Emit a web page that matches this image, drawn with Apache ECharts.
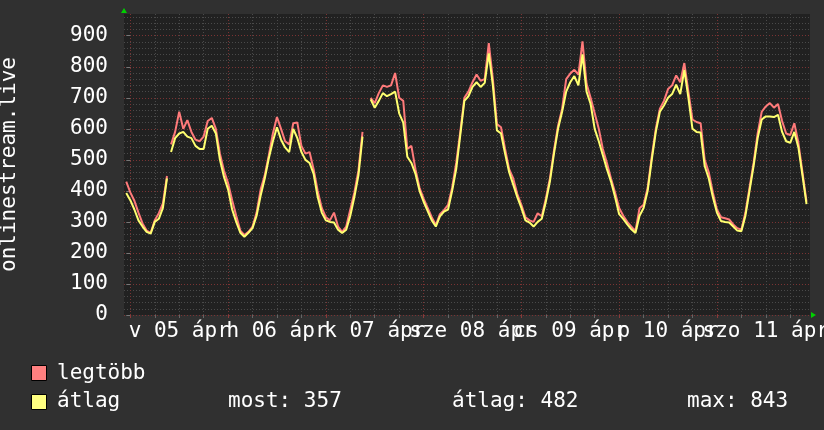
<!DOCTYPE html>
<html>
<head>
<meta charset="utf-8">
<script src="https://cdn.jsdelivr.net/npm/echarts@6/dist/echarts.min.js"></script>
<style>
html,body{margin:0;padding:0;background:#303030;}
#c{width:824px;height:430px;}
</style>
</head>
<body>
<div id="c"></div>
<script>
// hours relative to 2020-04-05 00:00, hourly samples starting at hour -1
const dataStartHour = -1;
const breakAfterHours = [9];
const maxVals = [
  430,395,368,330,295,272,265,305,328,360,448,550,
  590,655,600,628,590,565,560,575,625,635,600,520,
  465,425,370,320,272,258,268,285,330,405,450,515,
  585,638,600,560,550,618,620,545,520,525,470,400,
  345,315,305,330,285,268,285,340,395,465,590,null,
  700,683,715,740,735,740,780,700,690,535,545,470,
  410,375,345,315,290,325,338,355,410,490,590,700,
  720,750,775,755,760,876,760,615,605,535,470,440,
  390,355,315,305,300,328,318,375,440,530,610,665,
  760,778,790,775,882,745,700,650,600,535,490,440,
  395,345,320,300,285,270,344,355,410,510,600,665,
  690,728,740,772,750,812,720,630,622,618,500,460,
  395,340,315,312,308,292,280,275,330,410,490,585,
  655,672,683,668,680,625,585,580,618,555,460,365
];
const avgVals = [
  393,370,340,305,285,268,262,300,310,345,440,525,
  570,585,590,575,570,545,535,535,600,610,585,500,
  445,405,340,300,265,252,265,280,320,385,440,505,
  560,605,565,540,525,600,570,525,500,490,455,380,
  330,305,300,298,275,264,275,320,380,450,575,null,
  695,668,690,715,705,712,720,650,620,510,490,455,
  400,365,335,305,285,318,333,340,400,470,580,690,
  705,735,750,735,748,843,740,595,585,520,460,420,
  380,345,305,298,285,300,310,365,430,520,600,655,
  720,750,770,740,840,720,680,600,560,515,470,430,
  380,325,310,292,276,264,320,345,400,500,590,655,
  675,700,712,742,712,790,700,600,590,588,480,440,
  380,330,303,300,298,285,272,270,320,400,480,570,
  630,640,640,638,645,590,560,555,590,540,450,357
];
const dayLabels = ['v 05 ápr','h 06 ápr','k 07 ápr','sze 08 ápr','cs 09 ápr','p 10 ápr','szo 11 ápr'];
const dayStarts = [0,24,48,72,96,120,144];
const yTitle = 'onlinestream.live';
const seriesNames = ['legtöbb','átlag'];
const statsText = ['most: 357','átlag: 482','max: 843'];

const xMin = -1.55, xMax = 166.85;
const labelHours = dayStarts.map(d => d + 12);
const labelsA = labelHours.filter((h, i) => i % 2 === 0);
const labelsB = labelHours.filter((h, i) => i % 2 === 1);
const minorHours = [];
for (let h = 0; h <= 168; h += 6) { if (h % 24 !== 0 && h >= xMin && h <= xMax) minorHours.push(h); }

function build(vals) {
  const out = [];
  vals.forEach((v, i) => {
    const h = dataStartHour + i;
    out.push([h, v]);
    if (breakAfterHours.indexOf(h) >= 0) out.push([h + 0.5, null]);
  });
  return out;
}

const FONT = 'DejaVu Sans Mono';
const labelBase = {
  show: true, margin: 6, hideOverlap: false, showMinLabel: true, showMaxLabel: true,
  color: '#ffffff', fontFamily: FONT, fontSize: 21,
  formatter: v => dayLabels[Math.round((v - 12) / 24)] || ''
};
const chart = echarts.init(document.getElementById('c'), null, {renderer: 'canvas'});
chart.setOption({
  animation: false,
  backgroundColor: '#303030',
  grid: {left: 124, right: 14, top: 14, bottom: 115, show: true, backgroundColor: '#212121', borderWidth: 0,
         containLabel: false, outerBoundsMode: 'none'},
  xAxis: [
    {
      type: 'value', min: xMin, max: xMax, gridIndex: 0, position: 'bottom',
      axisLine: {show: false},
      axisTick: {show: true, customValues: minorHours, length: 3, lineStyle: {color: '#666666'}},
      axisLabel: Object.assign({}, labelBase, {customValues: labelsB}),
      splitLine: {show: true, lineStyle: {color: '#4a4a4a', type: [1, 2], width: 1}}
    },
    {
      type: 'value', min: xMin, max: xMax, gridIndex: 0, position: 'bottom',
      axisLine: {show: false},
      axisTick: {show: true, customValues: dayStarts, length: 3, lineStyle: {color: '#8a3a3a'}},
      axisLabel: Object.assign({}, labelBase, {customValues: labelsA}),
      splitLine: {show: true, lineStyle: {color: '#7a3333', type: [1, 2], width: 1}}
    }
  ],
  yAxis: [
    {
      type: 'value', min: 0, max: 970, interval: 20, position: 'left',
      axisLine: {show: false}, axisTick: {show: false}, axisLabel: {show: false},
      splitLine: {show: true, showMaxLine: false,
        lineStyle: {color: ['transparent', '#4a4a4a', '#4a4a4a', '#4a4a4a', '#4a4a4a'], type: [1, 2], width: 1}}
    },
    {
      type: 'value', min: 0, max: 970, interval: 100, position: 'left',
      name: yTitle, nameLocation: 'middle', nameRotate: 90, nameGap: 104,
      nameTextStyle: {color: '#ffffff', fontFamily: FONT, fontSize: 21},
      axisLine: {show: false},
      axisTick: {show: true, length: 4, lineStyle: {color: '#777777'}},
      axisLabel: {show: true, showMaxLabel: false, margin: 16, color: '#ffffff', fontFamily: FONT, fontSize: 21},
      splitLine: {show: true, showMaxLine: false, lineStyle: {color: '#7a3333', type: [1, 2], width: 1}}
    }
  ],
  series: [
    {
      name: seriesNames[0], type: 'line', xAxisIndex: 1, yAxisIndex: 1,
      data: build(maxVals), showSymbol: false, connectNulls: false,
      lineStyle: {color: '#ff7a7a', width: 2}, itemStyle: {color: '#ff7a7a'}
    },
    {
      name: seriesNames[1], type: 'line', xAxisIndex: 1, yAxisIndex: 1,
      data: build(avgVals), showSymbol: false, connectNulls: false,
      lineStyle: {color: '#ffff70', width: 2}, itemStyle: {color: '#ffff70'}
    }
  ],
  graphic: [
    {type: 'polygon', shape: {points: [[121, 13], [127, 13], [124, 8]]}, style: {fill: '#00d000'}},
    {type: 'polygon', shape: {points: [[811, 312], [811, 318], [816, 315]]}, style: {fill: '#00d000'}},
    {type: 'rect', shape: {x: 31.5, y: 365.5, width: 15, height: 15}, style: {fill: '#ff8080', stroke: '#000000', lineWidth: 1}},
    {type: 'rect', shape: {x: 31.5, y: 394.5, width: 15, height: 15}, style: {fill: '#ffff80', stroke: '#000000', lineWidth: 1}},
    {type: 'text', x: 57, y: 374, style: {text: seriesNames[0], fill: '#ffffff', font: '21px "DejaVu Sans Mono"', verticalAlign: 'middle'}},
    {type: 'text', x: 57, y: 402, style: {text: seriesNames[1], fill: '#ffffff', font: '21px "DejaVu Sans Mono"', verticalAlign: 'middle'}},
    {type: 'text', x: 228, y: 402, style: {text: statsText[0], fill: '#ffffff', font: '21px "DejaVu Sans Mono"', verticalAlign: 'middle'}},
    {type: 'text', x: 452, y: 402, style: {text: statsText[1], fill: '#ffffff', font: '21px "DejaVu Sans Mono"', verticalAlign: 'middle'}},
    {type: 'text', x: 687, y: 402, style: {text: statsText[2], fill: '#ffffff', font: '21px "DejaVu Sans Mono"', verticalAlign: 'middle'}}
  ]
});
</script>
</body>
</html>
